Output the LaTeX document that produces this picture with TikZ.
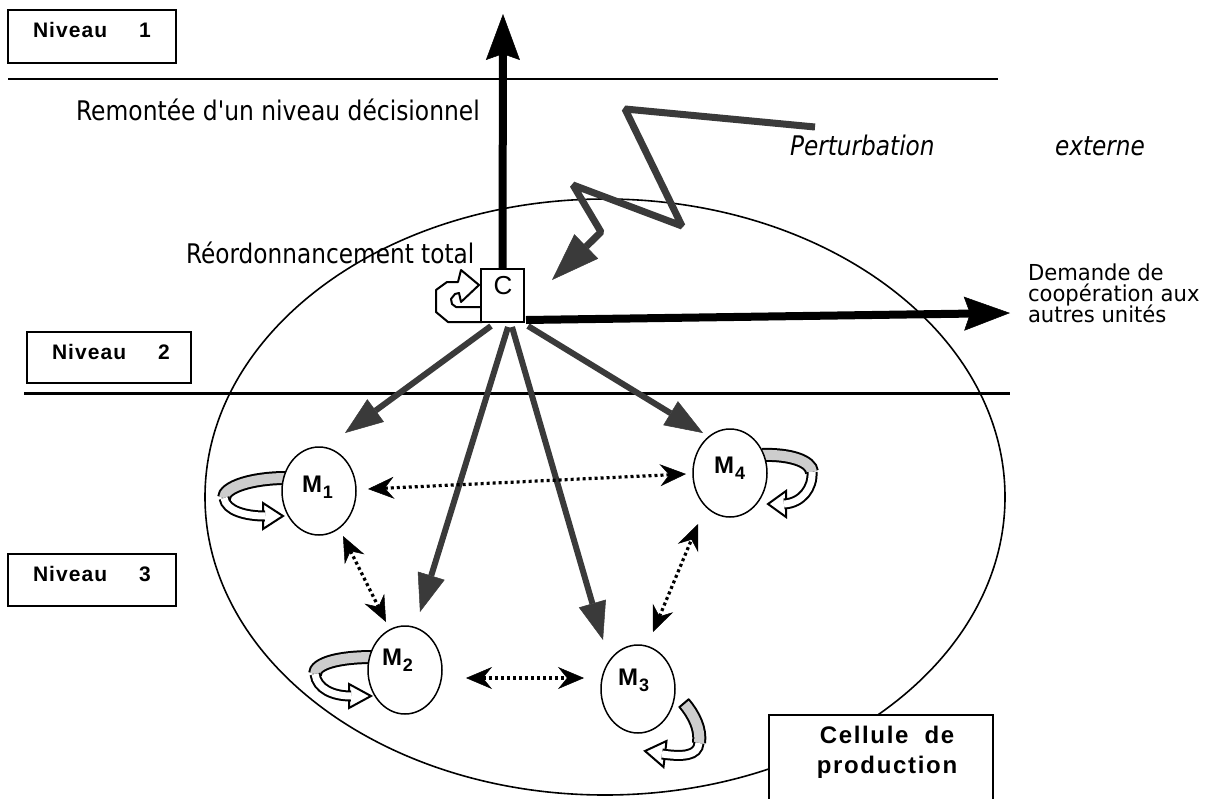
\documentclass[tikz,border=0pt]{standalone}
\usepackage{fontspec}
\setmainfont{Liberation Sans}
\newfontfamily\helvfont[LetterSpace=5]{Liberation Sans}
\newfontfamily\genfont{DejaVu Sans}
\usetikzlibrary{arrows.meta,shapes.geometric}
\definecolor{arrowgray}{HTML}{3A3A3A}
\definecolor{bandgray}{HTML}{CDCDCD}
\newcommand{\gtxt}[3]{\scalebox{#2}[1]{\genfont\fontsize{#1}{#1}\selectfont #3}}
\begin{document}
\begin{tikzpicture}[x=1pt,y=-1pt,
  every node/.style={inner sep=0pt,outer sep=0pt},
  framebox/.style={draw,line width=1.5pt,fill=white},
  lvtext/.style={anchor=base west,font=\helvfont\bfseries\fontsize{21}{24}\selectfont},
  machine/.style={draw,line width=1.5pt,fill=white,ellipse,minimum width=74pt,minimum height=88pt},
  mlabel/.style={anchor=base west,font=\bfseries\fontsize{24}{26}\selectfont},
  grayarrow/.style={draw=arrowgray,line width=6pt,-{Triangle[length=38pt,width=28pt,line width=0.5pt]}},
  heavyarrow/.style={line width=8pt,-{Stealth[length=46pt,width=34pt,inset=6pt,line width=0.5pt]}},
  dotlink/.style={line width=3.2pt,dash pattern=on 3pt off 3pt,
    {Stealth[length=26pt,width=22pt,inset=9pt,line width=0.5pt]}-{Stealth[length=26pt,width=22pt,inset=9pt,line width=0.5pt]}},
  grayband/.style={line width=2pt,double=bandgray,double distance=10pt},
  whiteband/.style={line width=2pt,double=white,double distance=7pt},
  loophead/.style={draw,line width=2pt,fill=white,line join=miter},
]
\useasboundingbox (0,0) rectangle (1226,798);
\clip (0,0) rectangle (1226,798);

% production cell outline
\node[draw,line width=1.6pt,ellipse,minimum width=800pt,minimum height=596pt] (cell) at (605,497) {};

% level separators
\draw[line width=2pt] (8,79) -- (998,79);
\draw[line width=3pt] (24,393) -- (1010,393);

% level labels
\node[framebox,minimum width=168pt,minimum height=53pt] (lv1) at (92,36.5) {};
\node[lvtext] at (33,37) {Niveau\hspace{32pt}1};
\node[framebox,minimum width=164pt,minimum height=51pt] (lv2) at (109,357.5) {};
\node[lvtext] at (52,359) {Niveau\hspace{32pt}2};
\node[framebox,minimum width=168pt,minimum height=52pt] (lv3) at (92,580) {};
\node[lvtext] at (33,581) {Niveau\hspace{32pt}3};

% captions
\node[anchor=base west] (up) at (76,120) {\gtxt{27}{0.867}{Remontée d'un niveau décisionnel}};
\node[anchor=base west] (reord) at (186,263) {\gtxt{27}{0.86}{Réordonnancement total}};
\node[anchor=base west] (pert1) at (790,155) {\gtxt{27}{0.86}{\itshape Perturbation}};
\node[anchor=base east] (pert2) at (1145,155) {\gtxt{27}{0.86}{\itshape externe}};
\node[anchor=base west] (dem1) at (1028,280) {\gtxt{22}{0.96}{Demande de}};
\node[anchor=base west] (dem2) at (1028,301) {\gtxt{22}{0.96}{coopération aux}};
\node[anchor=base west] (dem3) at (1028,322) {\gtxt{22}{0.96}{autres unités}};

% machines
\coordinate (m1pos) at (319,491);
\coordinate (m2pos) at (405,670);
\coordinate (m3pos) at (638,689);
\coordinate (m4pos) at (730,473);

% orders from the coordinator to the machines
\coordinate (c1) at (491,326);
\coordinate (c2) at (508,327);
\coordinate (c3) at (512,327);
\coordinate (c4) at (528,326);
\coordinate (t1) at (345,433);
\coordinate (t2) at (420,612);
\coordinate (t3) at (603,640);
\coordinate (t4) at (703,433);
\draw[grayarrow] (c1) -- (t1);
\draw[grayarrow] (c2) -- (t2);
\draw[grayarrow] (c3) -- (t3);
\draw[grayarrow] (c4) -- (t4);

% cooperation between machines
\coordinate (d1a) at (368,489);
\coordinate (d1b) at (686,474);
\coordinate (d2a) at (343,536);
\coordinate (d2b) at (386,622);
\coordinate (d3a) at (466,678);
\coordinate (d3b) at (584,678);
\coordinate (d4a) at (653,632);
\coordinate (d4b) at (698,524);
\draw[dotlink] (d1a) -- (d1b);
\draw[dotlink] (d2a) -- (d2b);
\draw[dotlink] (d3a) -- (d3b);
\draw[dotlink] (d4a) -- (d4b);

% local rescheduling loops
% M1
\draw[grayband] (286,478) .. controls (252,478) and (224,487) .. (224,498);
\draw[loophead] (283,516) -- (263,503) -- (263,529) -- cycle;
\draw[whiteband] (224,498) .. controls (226,511) and (246,516) .. (265,516);
% M2
\draw[grayband] (372,657) .. controls (340,657) and (315,663) .. (315,674);
\draw[loophead] (371,696) -- (349,684) -- (349,708) -- cycle;
\draw[whiteband] (315,674) .. controls (317,689) and (333,696) .. (351,696);
% M4
\draw[grayband] (762,455) .. controls (790,454) and (811,461) .. (812,472);
\draw[loophead] (768,504) -- (786,491) -- (786,517) -- cycle;
\draw[whiteband] (812,472) .. controls (813,488) and (802,503) .. (784,504);
% M3
\draw[grayband] (684,703) .. controls (694,715) and (701,729) .. (699,743);
\draw[line width=2pt] (679,707.5) -- (689,699);
\draw[loophead] (645,751) -- (666.5,741) -- (663.5,767) -- cycle;
\draw[whiteband] (699,743) .. controls (698,756) and (683,757) .. (662,754);

\node[machine] (M1) at (m1pos) {};
\node[machine] (M2) at (m2pos) {};
\node[machine] (M3) at (m3pos) {};
\node[machine] (M4) at (m4pos) {};
\node[mlabel] (L1) at (302,492) {M\kern1pt\raisebox{-6pt}{\fontsize{18}{18}\selectfont 1}};
\node[mlabel] (L2) at (382,665) {M\kern1pt\raisebox{-6pt}{\fontsize{18}{18}\selectfont 2}};
\node[mlabel] (L3) at (618,685) {M\kern1pt\raisebox{-6pt}{\fontsize{18}{18}\selectfont 3}};
\node[mlabel] (L4) at (714,473) {M\kern1pt\raisebox{-6pt}{\fontsize{18}{18}\selectfont 4}};

% coordinator with its total rescheduling loop
\draw[loophead,line join=round] (482,322) -- (448,322) -- (436,312) -- (436,290) -- (447,282)
  -- (458,282) -- (461,270) -- (479,285) -- (461,302) -- (459,293) -- (455,294)
  -- (451,299) -- (452,304) -- (456,307) -- (482,307) -- cycle;
\node[framebox,minimum width=43pt,minimum height=53pt] (C) at (502.5,295.5) {};
\node[font=\fontsize{26}{27}\selectfont] (Clbl) at (503,286) {C};

% escalation and cooperation requests
\coordinate (upTip) at (503,14);
\coordinate (coopTip) at (1010,313);
\draw[heavyarrow] (C.north) -- (upTip);
\draw[heavyarrow] ([xshift=2pt,yshift=2pt]C.south east) -- (coopTip);

% external disturbance
\coordinate (pertStart) at (815,127);
\coordinate (pertTip) at (552,280);
\draw[draw=arrowgray,line width=7pt,line join=bevel,-{Triangle[length=48pt,width=34pt,line width=0.5pt]}]
  (pertStart) -- (625,109) -- (682,226) -- (573,185) -- (601,232) -- (pertTip);

% production cell label
\node[framebox,minimum width=224pt,minimum height=100pt] (cellbox) at (881,765) {};
\node[anchor=base,font=\helvfont\bfseries\fontsize{24}{28}\selectfont\addfontfeature{LetterSpace=7}] at (887,743) {Cellule\hspace{16pt}de};
\node[anchor=base,font=\helvfont\bfseries\fontsize{24}{28}\selectfont\addfontfeature{LetterSpace=7}] at (887,773) {production};
\end{tikzpicture}
\end{document}
